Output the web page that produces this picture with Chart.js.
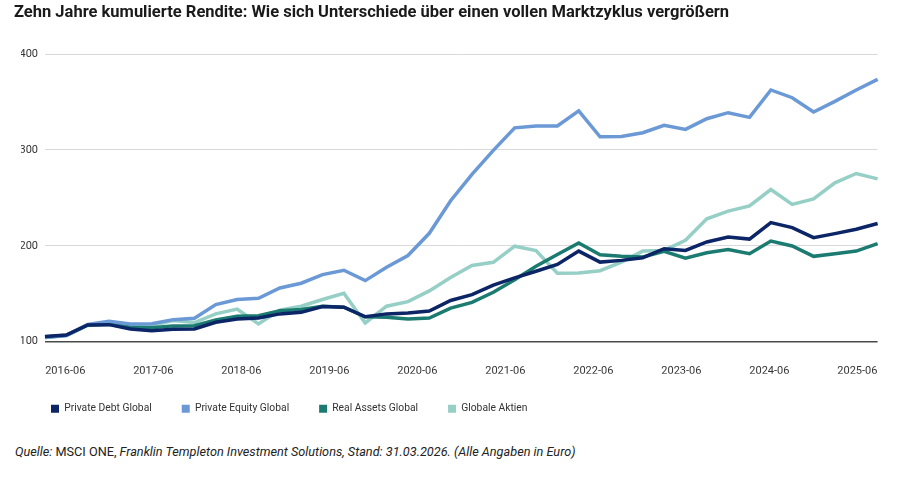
<!DOCTYPE html>
<html lang="de">
<head>
<meta charset="utf-8">
<title>Zehn Jahre kumulierte Rendite</title>
<script src="https://cdn.jsdelivr.net/npm/chart.js@4.4.1/dist/chart.umd.min.js"></script>
<style>
  html, body { margin: 0; padding: 0; background: #fff; }
  body { width: 901px; height: 485px; position: relative; overflow: hidden; font-family: Roboto, "Liberation Sans", sans-serif; color: #222; }
  #title { position: absolute; left: 14px; top: 2px; font-size: 16.5px; font-weight: 700; color: #1a1a1a; white-space: nowrap; z-index: 2; }
  #wrap { position: absolute; left: 0; top: 0; width: 901px; height: 424px; }
  #source { position: absolute; left: 15px; top: 444px; font-size: 12.7px; color: #222; white-space: nowrap; }
  #source i { font-style: italic; }
</style>
</head>
<body>
<div id="title">Zehn Jahre kumulierte Rendite: Wie sich Unterschiede über einen vollen Marktzyklus vergrößern</div>
<div id="wrap"><canvas id="chart"></canvas></div>
<div id="source"><i>Quelle:</i> MSCI ONE, <i>Franklin Templeton Investment Solutions, Stand: 31.03.2026. (Alle Angaben in Euro)</i></div>
<script>
// Quarterly data points
const quarters = [
  '2016-03','2016-06','2016-09','2016-12','2017-03','2017-06','2017-09','2017-12',
  '2018-03','2018-06','2018-09','2018-12','2019-03','2019-06','2019-09','2019-12',
  '2020-03','2020-06','2020-09','2020-12','2021-03','2021-06','2021-09','2021-12',
  '2022-03','2022-06','2022-09','2022-12','2023-03','2023-06','2023-09','2023-12',
  '2024-03','2024-06','2024-09','2024-12','2025-03','2025-06','2025-09','2025-12'
];

// Axis labels shown under the chart
const tickLabels = ['2016-06','2017-06','2018-06','2019-06','2020-06','2021-06','2022-06','2023-06','2024-06','2025-06'];
const yTicks = [100, 200, 300, 400];

// Series (indexed, start = ~100)
const privateDebt = [105.5,107,117.5,117.8,113.3,111.5,112.9,113.3,120.2,123.7,124.8,129,130.6,136.6,135.9,126,
  129,130,132,143,149,159,166.5,173.5,180.5,194.5,183,184.8,187.6,197,195.2,204,209.2,207,224.2,219,208.5,212.7,217.2,223.2];
const privateEquity = [104.5,106.5,118,121.2,118.5,118.8,123,124.5,138.7,144,145.3,156,161,170,174.5,163.7,
  177.6,189.8,213,247,274.5,299.5,323,325,325,340.8,313.7,314.1,317.9,325.6,321.4,332.5,338.8,333.9,362.5,354.4,339.5,350.6,362.5,373.6];
const realAssets = [105,106.8,117.5,118.5,115,114.5,116.5,116.7,122.7,126.5,127,132.4,133.5,137,136,126,
  125.4,123.7,124.7,135,141,151.5,164.7,178.7,191,202.9,190.7,189,188.2,194.2,187.2,192.8,196,191.8,205,199.8,189,191.8,194.5,202.2];
const globalEquities = [104.5,106.5,117,118,116.5,117,122,120,129,134,118.5,133,137,144,150.5,119.5,
  137,141.8,153,167,179.4,182.8,199.6,195,171.4,171.7,174,183,194.5,195.2,205.7,228.2,236.2,241.5,258.7,243.2,248.9,265.6,275.4,269.8];

const seriesNames = ['Private Debt Global', 'Private Equity Global', 'Real Assets Global', 'Globale Aktien'];
const seriesColors = ['#0b2566', '#6a99d6', '#1b7b70', '#96cfc6'];
const seriesData = [privateDebt, privateEquity, realAssets, globalEquities];

const datasets = seriesData.map((d, i) => ({
  label: seriesNames[i],
  data: d,
  borderColor: seriesColors[i],
  backgroundColor: seriesColors[i],
  borderWidth: 3.5,
  pointRadius: 0,
  pointHoverRadius: 0,
  tension: 0,
  fill: false
}));

const ctx = document.getElementById('chart').getContext('2d');
new Chart(ctx, {
  type: 'line',
  data: { labels: quarters, datasets: datasets },
  options: {
    responsive: true,
    maintainAspectRatio: false,
    animation: false,
    layout: { padding: { left: 21, right: 23, top: 54, bottom: 0 } },
    plugins: {
      title: { display: false },
      tooltip: { enabled: false },
      legend: {
        position: 'bottom',
        align: 'start',
        labels: {
          boxWidth: 8,
          boxHeight: 8,
          padding: 30,
          color: '#333',
          font: { family: 'Roboto', size: 10.3 },
          generateLabels: (chart) =>
            Chart.defaults.plugins.legend.labels.generateLabels(chart).map(l => ({ ...l, lineWidth: 0 }))
        }
      }
    },
    scales: {
      x: {
        type: 'category',
        display: false
      },
      xl: {
        type: 'linear',
        position: 'bottom',
        min: -0.23,
        max: 9.23,
        grid: { display: false, drawTicks: false },
        border: { display: false },
        afterBuildTicks: (axis) => { axis.ticks = tickLabels.map((_, i) => ({ value: i })); },
        afterFit: (axis) => { axis.height = 32; },
        ticks: {
          autoSkip: false,
          maxRotation: 0,
          padding: 23,
          color: '#333',
          font: { family: 'Roboto', size: 11 },
          callback: (v) => tickLabels[v]
        }
      },
      y: {
        min: 100,
        max: 400,
        afterBuildTicks: (axis) => { axis.ticks = yTicks.map(v => ({ value: v })); },
        afterFit: (axis) => { axis.width = 24; },
        grid: {
          drawTicks: false,
          color: (c) => c.tick && c.tick.value === 100 ? '#4a4a4a' : '#d9d9d9',
          lineWidth: (c) => c.tick && c.tick.value === 100 ? 1.5 : 1
        },
        border: { display: false },
        ticks: {
          padding: 7,
          color: '#333',
          font: { family: 'Roboto', size: 11 }
        }
      }
    }
  }
});
</script>
</body>
</html>
